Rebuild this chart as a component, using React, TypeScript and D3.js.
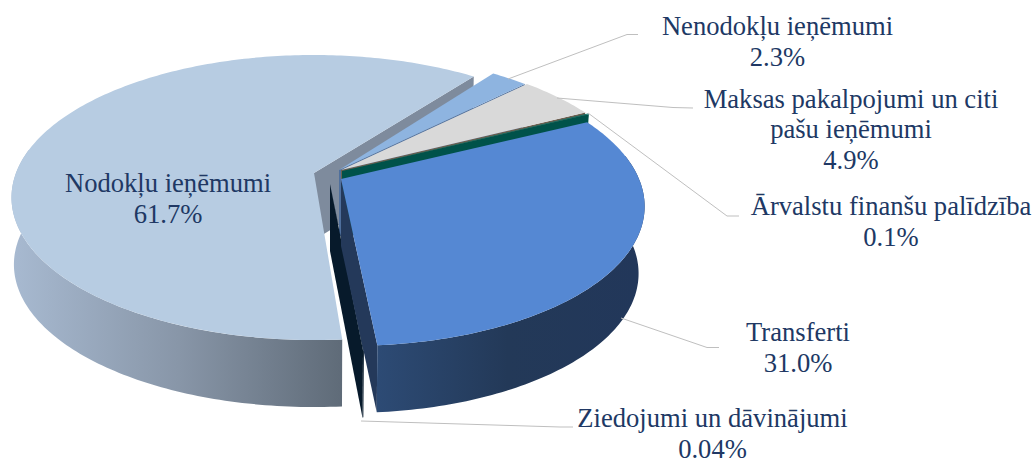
import React, { useRef, useEffect } from "react";
import * as d3 from "d3";

const categories = [
    "Nodokļu ieņēmumi",
    "Nenodokļu ieņēmumi",
    "Maksas pakalpojumi un citi pašu ieņēmumi",
    "Ārvalstu finanšu palīdzība",
    "Transferti",
    "Ziedojumi un dāvinājumi",
];
const shares = [61.7, 2.3, 4.9, 0.1, 31.0, 0.04];

const labelLines = [
    ["Nodokļu ieņēmumi"],
    ["Nenodokļu ieņēmumi"],
    ["Maksas pakalpojumi un citi", "pašu ieņēmumi"],
    ["Ārvalstu finanšu palīdzība"],
    ["Transferti"],
    ["Ziedojumi un dāvinājumi"],
];

// layout, same order as categories
const labelAnchors = [
    [168, 192],
    [777.5, 34.5],
    [851, 108],
    [891, 215],
    [798, 341],
    [712.5, 427],
];
const leaderLines = [
    null,
    [[508, 79], [627, 34.5], [638, 34.5]],
    [[557, 98], [673, 107.5], [693, 108]],
    [[588, 113], [727, 216], [739, 216]],
    [[621, 318], [707, 347.5], [719, 347.5]],
    [[361, 421], [560, 427], [573, 427]],
];
const sliceOrigins = [
    [314, 173],
    [339, 170],
    [341, 170],
    [342, 171],
    [341, 179],
    [330, 184],
];
// horizontal lean of each exploded slice, the chart's perspective is not the same for all of them
const sliceLeans = [0, 8, 8, 4, 6, 4];
const sliceShrinks = [0.008, 0.02, 0.02, 0.02, 0.02, 0.02];
const topColors = ["#B7CCE2", "#8EB4E0", "#D9D9D9", "#0B6F66", "#5588D3", "#0A2036"];
const sideColors = ["#7E8B9D", "#4F6F9C", "#6B5F50", "#00524A", "#24395A", "#071A2B"];

const width = 1035;
const height = 459;
const radiusX = 298;
const radiusY = 138.3;
const perspective = 0.172;
const depth = 67;
const startDeg = 175.5;
const lineHeight = 31;
// only this part of the rim faces the viewer
const frontFrom = (80 * Math.PI) / 180;
const frontTo = (280 * Math.PI) / 180;

function project(i, angle, z) {
    const origin = sliceOrigins[i];
    const X = Math.sin(angle);
    const Y = -Math.cos(angle);
    const w = 1 - perspective * Y;
    const shrink = 1 - sliceShrinks[i] * z;
    return [
        origin[0] + (radiusX * X * shrink + sliceLeans[i] * Y) / w,
        origin[1] + (radiusY * Y) / w + depth * z,
    ];
}

function apex(i, z) {
    return [sliceOrigins[i][0], sliceOrigins[i][1] + depth * z];
}

function rim(i, a0, a1, z) {
    const steps = Math.max(2, Math.ceil(Math.abs(a1 - a0) * 60));
    return d3.range(steps + 1).map((s) => project(i, a0 + ((a1 - a0) * s) / steps, z));
}

const App = () => {
    const svgRef = useRef();

    useEffect(() => {
        const svg = d3.select(svgRef.current);
        svg.selectAll("*").remove();

        const pie = d3
            .pie()
            .sort(null)
            .startAngle((startDeg * Math.PI) / 180)
            .endAngle(((startDeg + 360) * Math.PI) / 180);
        const arcs = pie(shares);
        const line = d3.line();

        const defs = svg.append("defs");
        const addGradient = (id, x1, x2, stops) => {
            const g = defs
                .append("linearGradient")
                .attr("id", id)
                .attr("gradientUnits", "userSpaceOnUse")
                .attr("x1", x1)
                .attr("x2", x2)
                .attr("y1", 0)
                .attr("y2", 0);
            stops.forEach((s, i) => {
                g.append("stop")
                    .attr("offset", i / (stops.length - 1))
                    .attr("stop-color", s);
            });
        };
        addGradient("bigWall", 15, 342, ["#A7B9D0", "#8896A8", "#5F6B78"]);
        addGradient("transfertiWall", 375, 640, ["#2D4B75", "#233958", "#22375A"]);

        const drawOrder = [0, 1, 2, 3, 5, 4];
        const pieGroup = svg.append("g");

        drawOrder.forEach((i) => {
            const d = arcs[i];
            const sliceGroup = pieGroup.append("g").attr("class", "slice");

            // radial wall at the clockwise end of the slice
            sliceGroup
                .append("path")
                .attr(
                    "d",
                    line([
                        apex(i, 0),
                        project(i, d.endAngle, 0),
                        project(i, d.endAngle, 1),
                        apex(i, 1),
                    ]) + "Z"
                )
                .attr("fill", sideColors[i]);

            // outer wall, front part only
            const turn = d.startAngle >= 2 * Math.PI ? 2 * Math.PI : 0;
            const from = Math.max(d.startAngle - turn, frontFrom);
            const to = Math.min(d.endAngle - turn, frontTo);
            if (to > from) {
                const outerFill =
                    i === 0 ? "url(#bigWall)" : i === 4 ? "url(#transfertiWall)" : sideColors[i];
                sliceGroup
                    .append("path")
                    .attr("d", line([...rim(i, from, to, 0), ...rim(i, to, from, 1)]) + "Z")
                    .attr("fill", outerFill);
            }

            // top face
            sliceGroup
                .append("path")
                .attr("d", line([apex(i, 0), ...rim(i, d.startAngle, d.endAngle, 0)]) + "Z")
                .attr("fill", topColors[i]);
        });

        // leader lines
        svg.append("g")
            .selectAll("path")
            .data(leaderLines.filter(Boolean))
            .enter()
            .append("path")
            .attr("d", (d) => line(d))
            .attr("fill", "none")
            .attr("stroke", "#BFBFBF")
            .attr("stroke-width", 1);

        // labels
        const fmt = (v) => (v < 0.1 ? d3.format(".2f")(v) : d3.format(".1f")(v)) + "%";
        const labels = svg
            .append("g")
            .selectAll("text")
            .data(categories)
            .enter()
            .append("text")
            .attr("text-anchor", "middle")
            .attr("font-family", "'Liberation Serif'")
            .attr("font-size", 26.6)
            .attr("fill", "#203864")
            .attr("x", (d, i) => labelAnchors[i][0])
            .attr("y", (d, i) => labelAnchors[i][1]);
        labels.each(function (d, i) {
            const t = d3.select(this);
            const lines = [...labelLines[i], fmt(shares[i])];
            lines.forEach((s, j) => {
                t.append("tspan")
                    .attr("x", labelAnchors[i][0])
                    .attr("dy", j === 0 ? 0 : lineHeight - (lines.length > 2 ? 0.6 : 0))
                    .text(s);
            });
        });
    }, []);

    return (
        <svg
            ref={svgRef}
            width={width}
            height={height}
            viewBox={`0 0 ${width} ${height}`}
            style={{ position: "absolute", left: 0, top: 0, background: "#fff" }}
        />
    );
};

export default App;
